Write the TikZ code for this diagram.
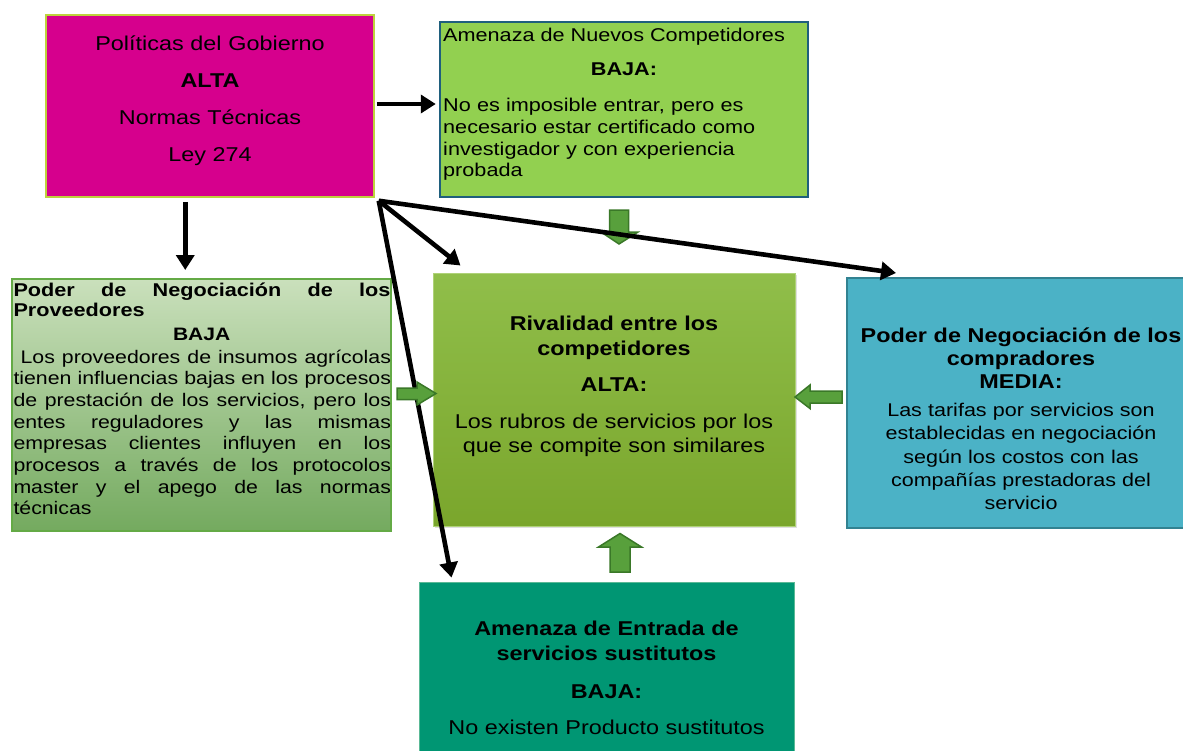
\documentclass[tikz,border=0pt]{standalone}
\usepackage{fontspec}
\setmainfont[FakeStretch=1.17]{Liberation Sans}
\usetikzlibrary{arrows.meta,calc,shadows}
\definecolor{govfill}{RGB}{214,0,141}
\definecolor{govline}{RGB}{190,210,60}
\definecolor{nuefill}{RGB}{146,208,80}
\definecolor{nueline}{RGB}{31,95,125}
\definecolor{provtop}{RGB}{202,224,188}
\definecolor{provbot}{RGB}{116,170,95}
\definecolor{provline}{RGB}{100,170,70}
\definecolor{rivtop}{RGB}{144,190,74}
\definecolor{rivbot}{RGB}{122,166,44}
\definecolor{rivline}{RGB}{175,210,120}
\definecolor{compfill}{RGB}{75,178,198}
\definecolor{compline}{RGB}{50,130,145}
\definecolor{sustfill}{RGB}{0,150,115}
\definecolor{sustline}{RGB}{90,185,150}
\definecolor{bafill}{RGB}{88,160,60}
\definecolor{baline}{RGB}{58,120,40}
\tikzset{
  box/.style={rectangle, inner sep=0pt},
  txt/.style={inner sep=0pt, text=black},
  conn/.style={line width=4.6pt, -{Triangle[length=15pt,width=18pt]}},
  blockarrow/.style={fill=bafill, draw=baline, line width=1.5pt, line join=miter},
}
\begin{document}
\begin{tikzpicture}[x=1pt,y=-1pt]
\useasboundingbox (0,0) rectangle (1183,750);

% boxes
\node[box, fill=govfill, draw=govline, line width=1.5pt, minimum width=328pt, minimum height=182pt] (gov) at (210,106) {};
\node[box, fill=nuefill, draw=nueline, line width=2.5pt, minimum width=368pt, minimum height=175pt] (nue) at (624,109.5) {};
\node[box, top color=provtop, bottom color=provbot, draw=provline, line width=2pt, minimum width=379pt, minimum height=252pt] (prov) at (201.5,405) {};
\node[box, top color=rivtop, bottom color=rivbot, draw=rivline, line width=1pt, minimum width=362pt, minimum height=253pt,
      drop shadow={shadow xshift=2pt, shadow yshift=-2pt, opacity=0.25}] (riv) at (614,399.5) {};
\node[box, fill=compfill, draw=compline, line width=2pt, minimum width=343pt, minimum height=250pt] (comp) at (1018.5,403) {};
\node[box, fill=sustfill, draw=sustline, line width=1pt, minimum width=375pt, minimum height=178pt] (sust) at (606.5,671) {};

% texts
\node[txt, text width=320pt, align=center, anchor=base, font=\fontsize{20}{37.2}\selectfont] (govt) at (210,50)
  {Políticas del Gobierno\\ \textbf{ALTA}\\ Normas Técnicas\\ Ley 274};

\node[txt, anchor=base west, font=\fontsize{18.5}{22}\selectfont] (nuet1) at (443,41.7) {Amenaza de Nuevos Competidores};
\node[txt, anchor=base, font=\fontsize{18.5}{22}\selectfont\bfseries] (nuet2) at (624,75.7) {BAJA:};
\node[txt, text width=360pt, align=left, anchor=base west, font=\fontsize{18.5}{21.7}\selectfont] (nuet3) at (443,111.7)
  {No es imposible entrar, pero es\\ necesario estar certificado como\\ investigador y con experiencia\\ probada};

\node[txt, text width=377pt, align=justify, anchor=base west, font=\fontsize{18.5}{20.7}\selectfont\bfseries] (provt1) at (13.3,296)
  {Poder de Negociación de los\linebreak Proveedores};
\node[txt, anchor=base, font=\fontsize{18}{20}\selectfont\bfseries] (provt2) at (201.7,340) {BAJA};
\node[txt, text width=377.5pt, align=justify, anchor=base west, font=\fontsize{18.2}{21.67}\selectfont] (provt3) at (13.3,363.3)
  {\ Los proveedores de insumos agrícolas\linebreak tienen influencias bajas en los procesos\linebreak de prestación de los servicios, pero los\linebreak entes reguladores y las mismas\linebreak empresas clientes influyen en los\linebreak procesos a través de los protocolos\linebreak master y el apego de las normas\linebreak técnicas};

\node[txt, text width=350pt, align=center, anchor=base, font=\fontsize{20}{24.3}\selectfont\bfseries] (rivt1) at (614,330.7)
  {Rivalidad entre los\\ competidores};
\node[txt, anchor=base, font=\fontsize{20}{24}\selectfont\bfseries] (rivt2) at (614,391.7) {ALTA:};
\node[txt, text width=350pt, align=center, anchor=base, font=\fontsize{20}{24.4}\selectfont] (rivt3) at (614,428.3)
  {Los rubros de servicios por los\\ que se compite son similares};

\node[txt, text width=345pt, align=center, anchor=base, font=\fontsize{20}{23}\selectfont\bfseries] (compt1) at (1021,342.7)
  {Poder de Negociación de los\\ compradores\\ MEDIA:};
\node[txt, text width=345pt, align=center, anchor=base, font=\fontsize{18.4}{23.2}\selectfont] (compt2) at (1021,416.7)
  {Las tarifas por servicios son\\ establecidas en negociación\\ según los costos con las\\ compañías prestadoras del\\ servicio};

\node[txt, text width=360pt, align=center, anchor=base, font=\fontsize{20}{25}\selectfont\bfseries] (sustt1) at (606.5,635)
  {Amenaza de Entrada de\\ servicios sustitutos};
\node[txt, anchor=base, font=\fontsize{20}{24}\selectfont\bfseries] (sustt2) at (606.5,698) {BAJA:};
\node[txt, anchor=base, font=\fontsize{20}{24}\selectfont] (sustt3) at (606.5,734) {No existen Producto sustitutos};

% green block arrows
\filldraw[blockarrow] (609.5,210) -- (628.5,210) -- (628.5,232) -- (638,232) -- (619,244) -- (601,232) -- (609.5,232) -- cycle;
\filldraw[blockarrow] (610,572) -- (610,547) -- (598.5,547) -- (620,533.5) -- (641.5,547) -- (630,547) -- (630,572) -- cycle;
\filldraw[blockarrow] (842,391) -- (810,391) -- (810,385) -- (795,397) -- (810,408.5) -- (810,403) -- (842,403) -- cycle;

% black connectors
\coordinate (o) at ($(gov.south east)+(4,3)$);
\coordinate (downstart) at ($(gov.south west)+(140,4)$);
\coordinate (t3) at ($(riv.north west)+(28,-7)$);
\coordinate (t4) at ($(sust.north west)+(33,-4)$);
\coordinate (t5) at ($(comp.north west)+(50,-4)$);
\draw[conn, shorten <=2pt, shorten >=3pt] ([yshift=2pt]gov.east) -- ([yshift=2pt]gov.east -| nue.west);
\draw[conn, shorten >=8pt] (downstart) -- (downstart |- prov.north);
\draw[conn] (o) -- (t3);
\draw[conn] (o) -- (t4);
\draw[conn] (o) -- (t5);

\filldraw[blockarrow] (397,388) -- (417,388) -- (417,382) -- (436,393.5) -- (417,405) -- (417,399.5) -- (397,399.5) -- cycle;
\end{tikzpicture}
\end{document}
